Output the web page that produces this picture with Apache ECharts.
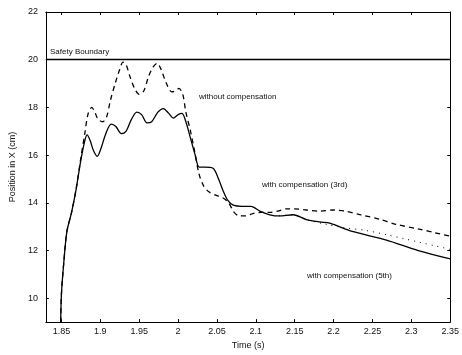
<!DOCTYPE html>
<html>
<head>
<meta charset="utf-8">
<script src="https://cdn.jsdelivr.net/npm/echarts@6/dist/echarts.min.js"></script>
<style>
  html, body { margin: 0; padding: 0; background: #fff; }
  #chart { width: 462px; height: 355px; }
</style>
</head>
<body>
<div id="chart"></div>
<script>
// time ticks and position ticks
const xTicks = [1.85, 1.9, 1.95, 2, 2.05, 2.1, 2.15, 2.2, 2.25, 2.3, 2.35];
const xTickLabels = ['1.85', '1.9', '1.95', '2', '2.05', '2.1', '2.15', '2.2', '2.25', '2.3', '2.35'];
const yTicks = [10, 12, 14, 16, 18, 20, 22];
const safetyBoundary = 20;

// [time (s), position (cm)]
const withoutComp = [
  [1.849, 9.0], [1.850, 10.2], [1.853, 11.5], [1.857, 12.8], [1.863, 13.6], [1.869, 14.6],
  [1.875, 15.9], [1.880, 16.9], [1.884, 17.7], [1.889, 18.0], [1.893, 17.8], [1.897, 17.5],
  [1.903, 17.4], [1.908, 17.6], [1.913, 18.3], [1.919, 19.0], [1.925, 19.6], [1.929, 19.9],
  [1.933, 19.8], [1.938, 19.3], [1.944, 18.8], [1.950, 18.55], [1.956, 18.7], [1.962, 19.3],
  [1.968, 19.7], [1.973, 19.85], [1.978, 19.6], [1.985, 19.0], [1.992, 18.65], [1.997, 18.7],
  [2.001, 18.8], [2.006, 18.55], [2.010, 17.8], [2.016, 17.0], [2.021, 16.2], [2.027, 15.2],
  [2.033, 14.7], [2.040, 14.45], [2.050, 14.3], [2.058, 14.2], [2.065, 14.0], [2.072, 13.6],
  [2.079, 13.45], [2.087, 13.45], [2.096, 13.55], [2.107, 13.6], [2.118, 13.6], [2.128, 13.65],
  [2.140, 13.75], [2.150, 13.75], [2.165, 13.7], [2.182, 13.65], [2.200, 13.7], [2.215, 13.65],
  [2.235, 13.5], [2.260, 13.3], [2.280, 13.1], [2.310, 12.9], [2.330, 12.75], [2.350, 12.6]
];

const comp5th = [
  [1.849, 9.0], [1.850, 10.2], [1.853, 11.5], [1.857, 12.8], [1.863, 13.6], [1.869, 14.6],
  [1.875, 15.8], [1.880, 16.6], [1.883, 16.85], [1.887, 16.6], [1.891, 16.2], [1.896, 15.95],
  [1.901, 16.3], [1.907, 16.9], [1.914, 17.3], [1.920, 17.2], [1.927, 16.9], [1.933, 17.0],
  [1.940, 17.5], [1.947, 17.8], [1.953, 17.7], [1.960, 17.35], [1.966, 17.4], [1.974, 17.8],
  [1.981, 17.95], [1.988, 17.75], [1.994, 17.55], [2.000, 17.7], [2.005, 17.75], [2.010, 17.4],
  [2.016, 16.7], [2.022, 16.0], [2.027, 15.5], [2.034, 15.5], [2.045, 15.45], [2.052, 15.0],
  [2.058, 14.5], [2.064, 14.1], [2.071, 13.9], [2.082, 13.85], [2.094, 13.85], [2.105, 13.65],
  [2.118, 13.5], [2.130, 13.45], [2.148, 13.5], [2.165, 13.3], [2.182, 13.2], [2.195, 13.15],
  [2.224, 12.8], [2.267, 12.45], [2.309, 12.0], [2.350, 11.65]
];

const comp3rd = [
  [2.130, 13.45], [2.148, 13.5], [2.165, 13.3], [2.190, 13.1], [2.215, 12.95], [2.240, 12.85],
  [2.270, 12.65], [2.290, 12.5], [2.310, 12.35], [2.330, 12.2], [2.350, 12.05]
];

const chart = echarts.init(document.getElementById('chart'));

const labelFont = { fontFamily: 'Liberation Sans, Arial, sans-serif', fontSize: 9, color: '#111' };

chart.setOption({
  animation: false,
  backgroundColor: '#fff',
  grid: { left: 41, right: 7, top: 12, bottom: 25 },
  xAxis: [
    {
      type: 'value', min: 1.83, max: 2.35,
      name: 'Time (s)', nameLocation: 'middle', nameGap: 12,
      nameTextStyle: labelFont,
      axisLine: { lineStyle: { color: '#000', width: 1 } },
      axisTick: { inside: true, length: 3, customValues: xTicks, lineStyle: { color: '#000' } },
      axisLabel: {
        ...labelFont, margin: 5, customValues: xTicks,
        formatter: (v) => xTickLabels[xTicks.findIndex((t) => Math.abs(t - v) < 1e-6)] || ''
      },
      splitLine: { show: false }
    },
    {
      type: 'value', position: 'top', min: 1.83, max: 2.35,
      axisLine: { lineStyle: { color: '#000', width: 1 } },
      axisTick: { inside: true, length: 3, customValues: xTicks, lineStyle: { color: '#000' } },
      axisLabel: { show: false },
      splitLine: { show: false }
    }
  ],
  yAxis: [
    {
      type: 'value', min: 9, max: 22,
      name: 'Position in X (cm)', nameLocation: 'middle', nameGap: 24,
      nameTextStyle: labelFont,
      axisLine: { show: true, lineStyle: { color: '#000', width: 1 } },
      axisTick: { show: true, inside: true, length: 3, customValues: yTicks, lineStyle: { color: '#000' } },
      axisLabel: { ...labelFont, margin: 8, customValues: yTicks },
      splitLine: { show: false }
    },
    {
      type: 'value', position: 'right', min: 9, max: 22,
      axisLine: { show: true, lineStyle: { color: '#000', width: 1 } },
      axisTick: { show: true, inside: true, length: 3, customValues: yTicks, lineStyle: { color: '#000' } },
      axisLabel: { show: false },
      splitLine: { show: false }
    }
  ],
  series: [
    {
      name: 'without compensation',
      type: 'line',
      data: withoutComp,
      showSymbol: false,
      smooth: 0.3,
      lineStyle: { color: '#000', width: 1.3, type: [5, 4] },
      markLine: {
        silent: true,
        symbol: 'none',
        label: { show: false },
        lineStyle: { color: '#000', width: 1.3, type: 'solid' },
        data: [{ yAxis: safetyBoundary }]
      }
    },
    {
      name: 'with compensation (3rd)',
      type: 'line',
      data: comp3rd,
      showSymbol: false,
      smooth: 0.3,
      lineStyle: { color: '#000', width: 1, type: [1, 5] }
    },
    {
      name: 'with compensation (5th)',
      type: 'line',
      data: comp5th,
      showSymbol: false,
      smooth: 0.3,
      lineStyle: { color: '#000', width: 1.3 }
    }
  ],
  graphic: [
    { type: 'text', left: 50, top: 48, style: { text: 'Safety Boundary', font: '8px Liberation Sans', fill: '#111' } },
    { type: 'text', left: 199, top: 93, style: { text: 'without compensation', font: '8px Liberation Sans', fill: '#111' } },
    { type: 'text', left: 262, top: 181, style: { text: 'with compensation (3rd)', font: '8px Liberation Sans', fill: '#111' } },
    { type: 'text', left: 307, top: 272, style: { text: 'with compensation (5th)', font: '8px Liberation Sans', fill: '#111' } }
  ]
});
</script>
</body>
</html>
